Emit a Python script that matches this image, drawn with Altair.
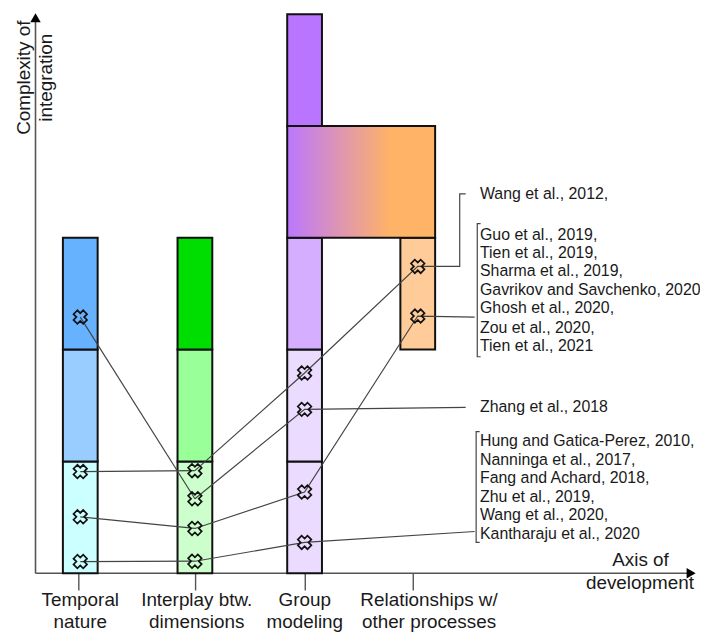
import altair as alt
import pandas as pd

# ---------------- data (diagram units: x = column spacing, y = complexity level) ----
col_x = [0.0, 1.019, 1.994, 3.0]
half_w = 0.1545

block_col = [0, 0, 0, 1, 1, 1, 2, 2, 2, 2, 3]
block_lo = [0, 1, 2, 0, 1, 2, 0, 1, 2, 4, 2]
block_hi = [1, 2, 3, 1, 2, 3, 1, 2, 3, 5, 3]
block_fill = ["#ccffff", "#99ccff", "#66b2ff",
              "#ccffcc", "#99ff99", "#00dd00",
              "#ebdcff", "#ebdcff", "#d5aeff", "#b975ff",
              "#ffcc99"]

# shared block spanning group modeling -> relationships (level 3-4)
grad_cols = [2, 3]
grad_lo, grad_hi = 3, 4

marker_col = [0, 0, 0, 0, 1, 1, 1, 1, 2, 2, 2, 2, 3, 3]
marker_y = [2.291, 0.909, 0.504, 0.104,
            0.917, 0.666, 0.400, 0.107,
            1.791, 1.465, 0.726, 0.275,
            2.744, 2.300]

link_id = ["a", "a", "b", "b", "c", "c", "d", "d",
           "e", "e", "e", "e", "e", "e",
           "f", "f", "f",
           "g", "g", "g", "g",
           "h", "h", "h"]
link_x = [0.0, 1.019, 0.0, 1.019, 0.0, 1.019, 0.0, 1.019,
          1.019, 1.994, 3.0, 3.373, 3.373, 3.426,
          1.019, 1.994, 3.426,
          1.019, 1.994, 3.0, 3.506,
          1.019, 1.994, 3.506]
link_y = [2.291, 0.666, 0.909, 0.917, 0.504, 0.400, 0.104, 0.107,
          0.917, 1.791, 2.744, 2.744, 3.393, 3.393,
          0.666, 1.465, 1.483,
          0.400, 0.726, 2.300, 2.291,
          0.107, 0.275, 0.373]

bracket_id = ["b1", "b1", "b1", "b1", "b2", "b2", "b2", "b2"]
bracket_x = [3.559, 3.529, 3.529, 3.559, 3.550, 3.519, 3.519, 3.550]
bracket_y = [3.126, 3.126, 1.936, 1.936, 1.266, 1.266, 0.275, 0.275]

cite_text = ["Wang et al., 2012,",
             "Guo et al., 2019,", "Tien et al., 2019,", "Sharma et al., 2019,",
             "Gavrikov and Savchenko, 2020", "Ghosh et al., 2020,",
             "Zou et al., 2020,", "Tien et al., 2021",
             "Zhang et al., 2018",
             "Hung and Gatica-Perez, 2010,", "Nanninga et al., 2017,",
             "Fang and Achard, 2018,", "Zhu et al., 2019,",
             "Wang et al., 2020,", "Kantharaju et al., 2020"]
cite_y = [3.395,
          3.028, 2.862, 2.700, 2.531, 2.369, 2.191, 2.028,
          1.486,
          1.184, 1.015, 0.850, 0.681, 0.518, 0.346]
cite_x = 3.553

label_x = [0.0, 1.035, 1.996, 3.1]
label_line1 = ["Temporal", "Interplay btw.", "Group", "Relationships w/"]
label_line2 = ["nature", "dimensions", "modeling", "other processes"]
label_y1, label_y2 = -0.293, -0.486   # text baselines

tick_x = [-0.013, 1.025, 2.0, 2.96]
tick_lo, tick_hi = -0.155, 0.0

axis_x0 = -0.398
axis_top = 4.93
axis_right = 5.40
arrow_up = (-0.398, 4.969)
arrow_right = (5.43, 0.0)

ytitle_text = ["Complexity of", "integration"]
ytitle_x = [-0.501, -0.302]
ytitle_y = 4.432
xtitle_text = ["Axis of", "development"]
xtitle_x = [4.98, 4.975]
xtitle_y = [0.118, -0.089]

# ---------------- scales ----------------
FONT = "Liberation Sans"
xs = alt.Scale(domain=[-0.6425, 5.509], nice=False, zero=False)
ys = alt.Scale(domain=[-0.524, 5.0355], nice=False, zero=False)
X = lambda f: alt.X(f, type="quantitative", scale=xs, axis=None)
Y = lambda f: alt.Y(f, type="quantitative", scale=ys, axis=None)

blocks = pd.DataFrame({
    "x1": [col_x[c] - half_w for c in block_col],
    "x2": [col_x[c] + half_w for c in block_col],
    "y1": block_lo, "y2": block_hi, "fill": block_fill})
grad = pd.DataFrame({"x1": [col_x[grad_cols[0]] - half_w],
                     "x2": [col_x[grad_cols[1]] + half_w],
                     "y1": [grad_lo], "y2": [grad_hi]})
markers = pd.DataFrame({"x": [col_x[c] for c in marker_col], "y": marker_y})
links = pd.DataFrame({"id": link_id, "x": link_x, "y": link_y,
                      "o": list(range(len(link_id)))})
brackets = pd.DataFrame({"id": bracket_id, "x": bracket_x, "y": bracket_y,
                         "o": list(range(len(bracket_id)))})
cites = pd.DataFrame({"t": cite_text, "y": cite_y, "x": [cite_x] * len(cite_text)})
labels1 = pd.DataFrame({"t": label_line1, "x": label_x, "y": [label_y1] * 4})
labels2 = pd.DataFrame({"t": label_line2, "x": label_x, "y": [label_y2] * 4})
ticks = pd.DataFrame({"x": tick_x, "y1": [tick_lo] * 4, "y2": [tick_hi] * 4})
axes = pd.DataFrame({"id": ["v", "v", "h", "h"],
                     "x": [axis_x0, axis_x0, axis_x0, axis_right],
                     "y": [axis_top, 0.0, 0.0, 0.0], "o": [0, 1, 2, 3]})
arrows = pd.DataFrame({"x": [arrow_up[0], arrow_right[0]],
                       "y": [arrow_up[1], arrow_right[1]],
                       "s": ["triangle-up", "triangle-right"]})
ytitles = pd.DataFrame({"t": ytitle_text, "x": ytitle_x, "y": [ytitle_y] * 2})
xtitles = pd.DataFrame({"t": xtitle_text, "x": xtitle_x, "y": xtitle_y})

rects = alt.Chart(blocks).mark_rect(stroke="#111111", strokeWidth=2).encode(
    x=X("x1"), x2="x2", y=Y("y1"), y2="y2",
    fill=alt.Fill("fill:N", scale=None))

grad_rect = alt.Chart(grad).mark_rect(
    stroke="#111111", strokeWidth=2,
    fill=alt.LinearGradient(
        gradient="linear", x1=0, x2=1, y1=0, y2=0,
        stops=[alt.GradientStop(color="#bb77ff", offset=0),
               alt.GradientStop(color="#ffb366", offset=0.7),
               alt.GradientStop(color="#ffb366", offset=1)])
).encode(x=X("x1"), x2="x2", y=Y("y1"), y2="y2")

axis_lines = alt.Chart(axes).mark_line(color="#555555", strokeWidth=1.6).encode(
    x=X("x"), y=Y("y"), detail="id:N", order="o:Q")
arrow_heads = alt.Chart(arrows).mark_point(filled=True, color="black", opacity=1, size=110).encode(
    x=X("x"), y=Y("y"), shape=alt.Shape("s:N", scale=None))
tick_marks = alt.Chart(ticks).mark_rule(color="#555555", strokeWidth=1.4).encode(
    x=X("x"), y=Y("y1"), y2="y2")

link_lines = alt.Chart(links).mark_line(color="#444444", strokeWidth=1.2).encode(
    x=X("x"), y=Y("y"), detail="id:N", order="o:Q")
bracket_lines = alt.Chart(brackets).mark_line(color="#444444", strokeWidth=1.2).encode(
    x=X("x"), y=Y("y"), detail="id:N", order="o:Q")

marks_x = alt.Chart(markers).mark_point(
    shape="cross", angle=45, filled=False, stroke="#111111", strokeWidth=1.7,
    size=190, opacity=1).encode(x=X("x"), y=Y("y"))

cite_text_l = alt.Chart(cites).mark_text(
    align="left", baseline="middle", font=FONT, fontSize=16, color="#1a1a1a").encode(
    x=X("x"), y=Y("y"), text="t:N")
lab1 = alt.Chart(labels1).mark_text(
    align="center", baseline="alphabetic", font=FONT, fontSize=19, color="#1a1a1a").encode(
    x=X("x"), y=Y("y"), text="t:N")
lab2 = alt.Chart(labels2).mark_text(
    align="center", baseline="alphabetic", font=FONT, fontSize=19, color="#1a1a1a").encode(
    x=X("x"), y=Y("y"), text="t:N")
ytit = alt.Chart(ytitles).mark_text(
    align="center", baseline="middle", angle=270, font=FONT, fontSize=19, color="#1a1a1a").encode(
    x=X("x"), y=Y("y"), text="t:N")
xtit = alt.Chart(xtitles).mark_text(
    align="center", baseline="middle", font=FONT, fontSize=19, color="#1a1a1a").encode(
    x=X("x"), y=Y("y"), text="t:N")

chart = alt.layer(
    axis_lines, arrow_heads, tick_marks, rects, grad_rect, link_lines, bracket_lines,
    marks_x, cite_text_l, lab1, lab2, ytit, xtit
).properties(
    width=697, height=626, padding=0,
    autosize=alt.AutoSizeParams(type="none")
).configure_view(stroke=None)

chart.save("out.html", embed_options={"renderer": "svg", "actions": False})
